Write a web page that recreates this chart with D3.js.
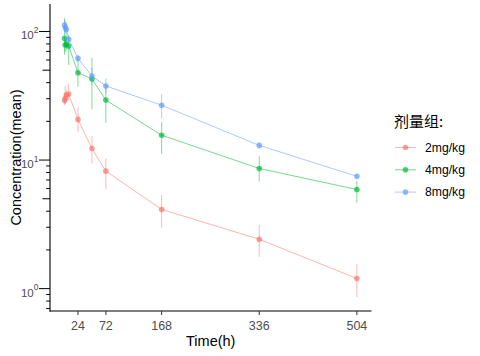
<!DOCTYPE html>
<html><head><meta charset="utf-8">
<script src="https://cdn.jsdelivr.net/npm/d3@7"></script>
<style>body{margin:0;background:#fff}svg{display:block}</style>
</head><body><svg id="c" width="480" height="356"></svg>
<script>
// ---- data ----
const times = [1, 2, 4, 8, 24, 48, 72, 168, 336, 504];
const groups = ["2mg/kg", "4mg/kg", "8mg/kg"];
const mean2 = [29.0, 30.1, 32.0, 32.6, 20.7, 12.3, 8.2, 4.13, 2.42, 1.2];
const low2  = [26.8, 27.3, 28.8, 29.3, 16.6, 9.43, 5.92, 2.97, 1.77, 0.86];
const high2 = [33.2, 37.7, 35.0, 39.0, 25.7, 15.4, 10.3, 5.34, 3.13, 1.55];
const mean4 = [88.5, 78.5, 79.9, 77.1, 47.8, 42.7, 29.3, 15.6, 8.6, 5.9];
const low4  = [65.6, 69.3, 71.8, 54.9, 37.2, 24.8, 19.5, 11.2, 6.78, 4.65];
const high4 = [127.4, 85.9, 89.0, 93.9, 60.0, 62.2, 38.4, 19.8, 10.7, 6.9];
const mean8 = [112.4, 107.4, 103.7, 86.9, 61.9, 45.1, 37.7, 26.7, 13.0, 7.47];
const low8  = [102.7, 95.6, 92.3, 81.4, 58.2, 38.4, 33.0, 21.1, 12.4, 7.2];
const high8 = [122.9, 120.7, 114.4, 92.3, 65.6, 52.0, 43.2, 32.6, 13.7, 7.75];
const xTicks = [24, 72, 168, 336, 504];
const yTicks = [1, 10, 100];
const yTickExp = ["0", "1", "2"];
const colors = ["#F8766D", "#00BA38", "#619CFF"];

const series = [
  {name: groups[0], mean: mean2, low: low2, high: high2, color: colors[0]},
  {name: groups[1], mean: mean4, low: low4, high: high4, color: colors[1]},
  {name: groups[2], mean: mean8, low: low8, high: high8, color: colors[2]}
];

// ---- layout ----
const L = 50, R = 371.5, T = 4, B = 311;
const svg = d3.select("#c");

const tmin = d3.min(times), tmax = d3.max(times), tr = tmax - tmin;
const x = d3.scaleLinear().domain([tmin - 0.05 * tr, tmax + 0.05 * tr]).range([L, R]);

const allLow = d3.min(series, s => d3.min(s.low));
const allHigh = d3.max(series, s => d3.max(s.high));
const lg0 = Math.log10(allLow), lg1 = Math.log10(allHigh), lr = lg1 - lg0;
const y = d3.scaleLog().domain([Math.pow(10, lg0 - 0.05 * lr), Math.pow(10, lg1 + 0.05 * lr)]).range([B, T]);

// ---- marks ----
const plot = svg.append("g");
series.forEach(s => {
  const g = plot.append("g");
  g.selectAll("line.eb").data(times).enter().append("line")
    .attr("x1", t => x(t)).attr("x2", t => x(t))
    .attr("y1", (t, i) => y(s.low[i])).attr("y2", (t, i) => y(s.high[i]))
    .attr("stroke", s.color).attr("stroke-opacity", 0.5).attr("stroke-width", 1);
  const line = d3.line().x((d, i) => x(times[i])).y(d => y(d));
  g.append("path").attr("d", line(s.mean)).attr("fill", "none")
    .attr("stroke", s.color).attr("stroke-opacity", 0.55).attr("stroke-width", 1);
  g.selectAll("circle").data(s.mean).enter().append("circle")
    .attr("cx", (d, i) => x(times[i])).attr("cy", d => y(d)).attr("r", 2.8)
    .attr("fill", s.color).attr("fill-opacity", 0.7);
});

// ---- axes ----
const axis = svg.append("g");
axis.append("line").attr("x1", L).attr("x2", L).attr("y1", T).attr("y2", B + 0.5)
  .attr("stroke", "#000").attr("stroke-width", 1.1);
axis.append("line").attr("x1", L - 0.5).attr("x2", R).attr("y1", B).attr("y2", B)
  .attr("stroke", "#000").attr("stroke-width", 1.1);

xTicks.forEach(t => {
  axis.append("line").attr("x1", x(t)).attr("x2", x(t)).attr("y1", B).attr("y2", B + 4)
    .attr("stroke", "#333").attr("stroke-width", 1);
  axis.append("text").attr("x", x(t)).attr("y", B + 18.5).attr("text-anchor", "middle")
    .attr("font-family", "Liberation Sans, Arial, sans-serif").attr("font-size", 12.5)
    .attr("fill", "#4D4D4D").text(t);
});

const [d0, d1] = y.domain();
for (let k = Math.floor(Math.log10(d0)); k <= Math.ceil(Math.log10(d1)); k++) {
  for (let m = 1; m <= 9; m++) {
    const v = m * Math.pow(10, k);
    if (v < d0 || v > d1) continue;
    const len = m === 1 ? 11 : (m === 5 ? 7.5 : 3.8);
    axis.append("line").attr("x1", L - len).attr("x2", L).attr("y1", y(v)).attr("y2", y(v))
      .attr("stroke", "#000").attr("stroke-width", 1);
  }
}
yTicks.forEach((v, i) => {
  const t = axis.append("text").attr("x", 38.5).attr("y", y(v) + 8).attr("text-anchor", "end")
    .attr("font-family", "Liberation Sans, Arial, sans-serif").attr("font-size", 11.5)
    .attr("fill", "#4D4D4D");
  t.append("tspan").text("10");
  t.append("tspan").attr("dy", -6.5).attr("font-size", 8.5).text(yTickExp[i]);
});

svg.append("text").attr("x", (L + R) / 2).attr("y", 346).attr("text-anchor", "middle")
  .attr("font-family", "Liberation Sans, Arial, sans-serif").attr("font-size", 14.5)
  .attr("fill", "#000").text("Time(h)");
svg.append("text").attr("transform", `translate(21,${(T + B) / 2}) rotate(-90)`)
  .attr("text-anchor", "middle")
  .attr("font-family", "Liberation Sans, Arial, sans-serif").attr("font-size", 14.5)
  .attr("fill", "#000").text("Concentration(mean)");

// ---- legend ----
const leg = svg.append("g");
leg.append("text").attr("x", 394).attr("y", 127).attr("font-family", "Noto Sans CJK SC, sans-serif")
  .attr("font-size", 15).attr("fill", "#000").text("剂量组:");
series.forEach((s, i) => {
  const yy = 147.5 + i * 22.3;
  leg.append("line").attr("x1", 395).attr("x2", 416).attr("y1", yy).attr("y2", yy)
    .attr("stroke", s.color).attr("stroke-opacity", 0.55).attr("stroke-width", 1);
  leg.append("circle").attr("cx", 405.5).attr("cy", yy).attr("r", 2.8)
    .attr("fill", s.color).attr("fill-opacity", 0.7);
  leg.append("text").attr("x", 425).attr("y", yy + 4.3)
    .attr("font-family", "Liberation Sans, Arial, sans-serif").attr("font-size", 12.2)
    .attr("fill", "#000").text(s.name);
});
</script></body></html>
